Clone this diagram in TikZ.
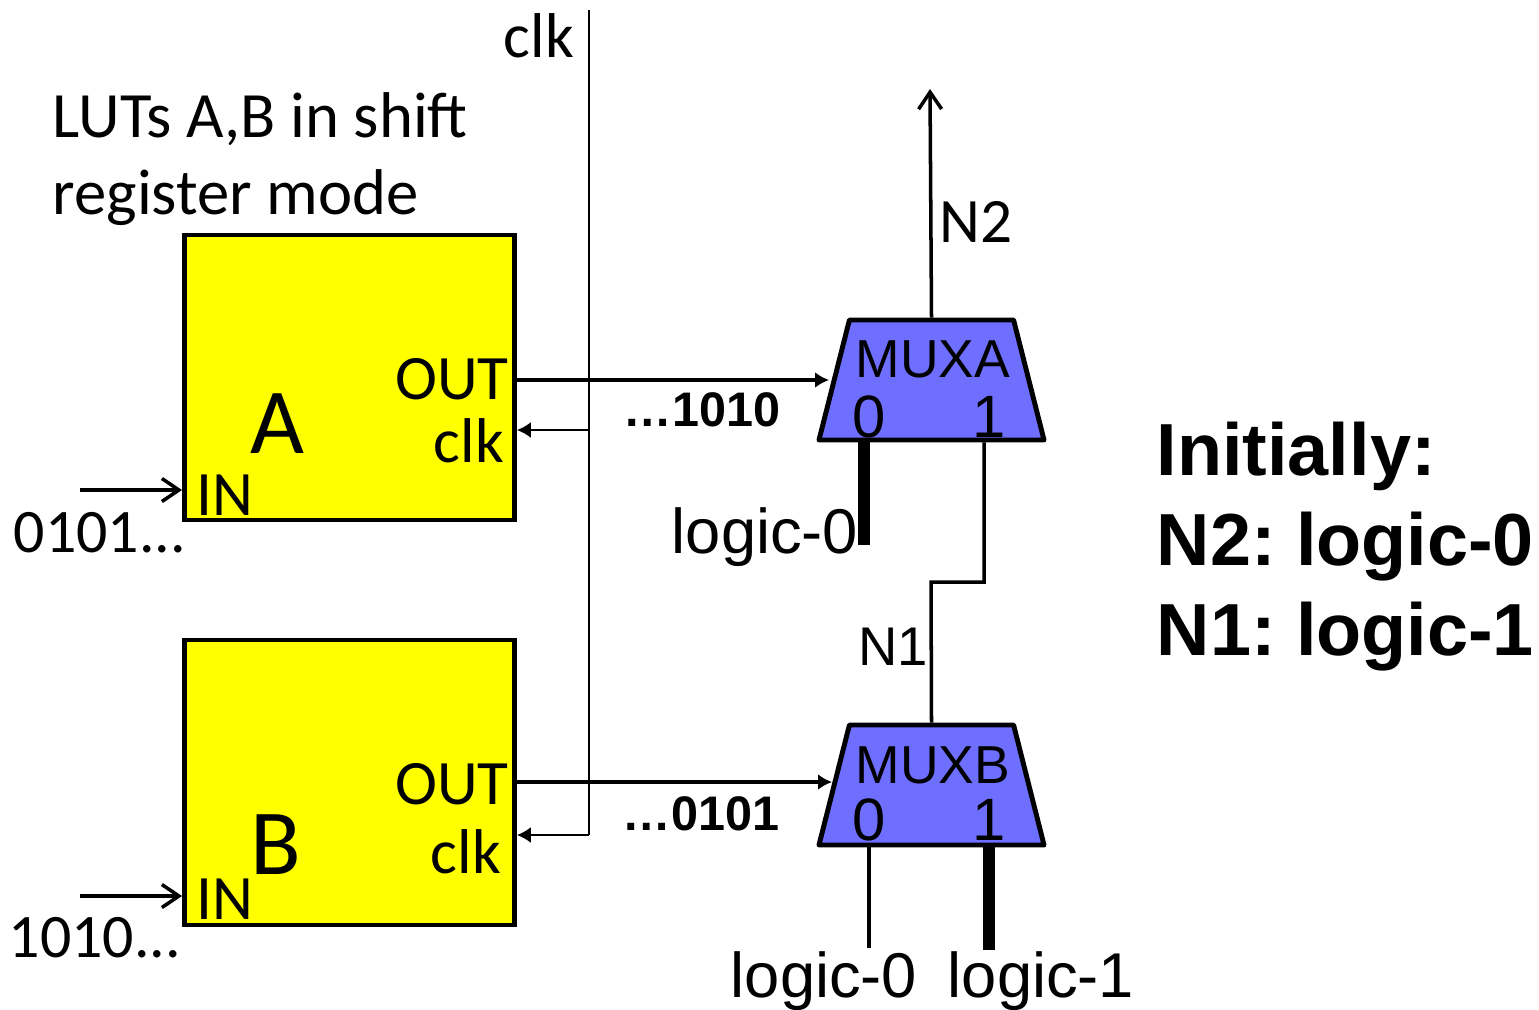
\documentclass[tikz,border=0pt]{standalone}
\usepackage{fontspec}
\setmainfont{Carlito}
\newfontfamily\arialfont{Liberation Sans}
\usepackage{xcolor}
\usetikzlibrary{arrows.meta,positioning,shapes.geometric,calc}
\definecolor{LutYellow}{HTML}{FFFF00}
\definecolor{MuxBlue}{HTML}{6F6FFF}
\tikzset{
  lutbox/.style={draw,line width=1.4pt,fill=LutYellow,minimum width=3.3cm,minimum height=2.85cm,inner sep=0pt},
  muxbox/.style={draw,line width=1.4pt,line join=round,fill=MuxBlue,trapezium,trapezium stretches=true,trapezium left angle=79.5,trapezium right angle=79.5,minimum width=2.25cm,minimum height=1.2cm,inner sep=2pt},
  thinwire/.style={line width=0.55pt},
  sigwire/.style={line width=1pt},
  tiewire/.style={line width=3.4pt},
  filltip/.style={-{Latex[length=1.4mm,width=1.6mm]}},
  opentip/.style={-{Straight Barb[length=1.7mm,width=2.3mm]}},
  labc/.style={font=\fontsize{18}{22}\selectfont,inner sep=0pt},
  laba/.style={font=\arialfont\fontsize{18}{22}\selectfont,inner sep=0pt},
  labm/.style={font=\arialfont\fontsize{15.2}{18}\selectfont,inner sep=0pt},
  labd/.style={font=\arialfont\fontsize{17}{20}\selectfont,inner sep=0pt},
  labs/.style={font=\arialfont\bfseries\fontsize{13.8}{17}\selectfont,inner sep=0pt},
}
\begin{document}
\frenchspacing
\begin{tikzpicture}[x=1cm,y=1cm]
\useasboundingbox (0,0) rectangle (15.39,10.09);
% shift registers
\node[lutbox] (luta) at (3.495,6.315) {};
\node[lutbox] (lutb) at (3.495,2.265) {};
\node[font=\fontsize{26.5}{30}\selectfont,inner sep=0pt] (namea) at (2.77,5.85) {A};
\node[font=\fontsize{26.5}{30}\selectfont,inner sep=0pt] (nameb) at (2.76,1.64) {B};
\node[labc] (ina) at (2.25,5.14) {IN};
\node[labc] (inb) at (2.25,1.10) {IN};
\node[labc] (outa) at (4.52,6.30) {OUT};
\node[labc] (outb) at (4.52,2.25) {OUT};
\node[labc] (clka) at (4.69,5.68) {clk};
\node[labc] (clkb) at (4.66,1.57) {clk};
\node[labc,font=\fontsize{17.6}{22}\selectfont] (seqa) at (1.00,4.76) {0101...};
\node[labc,font=\fontsize{17.6}{22}\selectfont] (seqb) at (0.95,0.71) {1010...};
\node[labc] (clkname) at (5.39,9.73) {clk};
\node[labc,align=left,anchor=north west,font=\fontsize{18.4}{22}\selectfont] (title) at (0.52,9.17) {LUTs A,B in shift\\register mode};
% muxes
\node[muxbox] (muxa) at (9.315,6.29) {};
\node[muxbox] (muxb) at (9.315,2.24) {};
\node[labm] (muxaname) at (9.33,6.5) {MUXA};
\node[labm] (muxbname) at (9.33,2.44) {MUXB};
\node[labd] (muxa0) at (8.69,5.92) {0};
\node[labd] (muxa1) at (9.89,5.92) {1};
\node[labd] (muxb0) at (8.69,1.89) {0};
\node[labd] (muxb1) at (9.89,1.89) {1};
\node[labs] (vala) at (7.02,5.99) {…1010};
\node[labs] (valb) at (7.01,1.95) {…0101};
\node[laba] (tiea) at (7.65,4.72) {logic-0};
\node[laba] (tieb) at (8.24,0.28) {logic-0};
\node[laba] (tiec) at (10.41,0.28) {logic-1};
\node[labc] (netn2) at (9.76,7.87) {N2};
\node[laba,font=\arialfont\fontsize{15.5}{18}\selectfont] (netn1) at (8.93,3.62) {N1};
\node[font=\arialfont\bfseries\fontsize{21}{25.6}\selectfont,align=left,anchor=north west,inner sep=0pt] (note) at (11.56,5.88) {Initially:\\N2: logic-0\\N1: logic-1};
% end points
\coordinate (seqastart) at (0.8,5.19);
\coordinate (seqbstart) at (0.8,1.13);
\coordinate (clktop) at (5.89,9.99);
\coordinate (clkbot) at (5.89,1.74);
\coordinate (clktap) at (5.89,5.79);
\coordinate (n2top) at (9.3,9.2);
\coordinate (n1a) at (9.84,4.27);
\coordinate (n1b) at (9.31,4.27);
\coordinate (tieaend) at (8.64,4.64);
\coordinate (tiebend) at (8.69,0.61);
\coordinate (tiecend) at (9.89,0.59);
% wires
\draw[thinwire] (clktop) -- (clkbot);
\draw[thinwire,filltip] (clkbot) -- (lutb.east |- clkbot);
\draw[thinwire,filltip] (clktap) -- (luta.east |- clktap);
\draw[sigwire,filltip] (luta.east |- 0,6.29) -- (8.29,6.29);
\draw[sigwire,filltip] (lutb.east |- 0,2.27) -- (8.32,2.27);
\draw[sigwire,opentip] (seqastart) -- (luta.west |- seqastart);
\draw[sigwire,opentip] (seqbstart) -- (lutb.west |- seqbstart);
\draw[sigwire,opentip] (muxa.north) -- (n2top);
\draw[sigwire] (n1a |- muxa.south) -- (n1a) -- (n1b) -- (muxb.north);
\draw[tiewire] (tieaend |- muxa.south) -- (tieaend);
\draw[sigwire] (tiebend |- muxb.south) -- (tiebend);
\draw[tiewire] (tiecend |- muxb.south) -- (tiecend);
\end{tikzpicture}
\end{document}
